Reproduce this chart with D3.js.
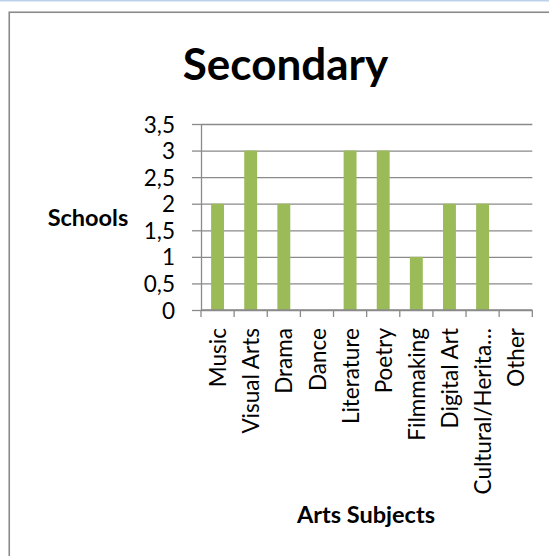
<!DOCTYPE html>
<html>
<head>
<meta charset="utf-8">
<script src="https://cdn.jsdelivr.net/npm/d3@7/dist/d3.min.js"></script>
<style>
  html, body { margin: 0; padding: 0; background: #ffffff; }
  svg { display: block; }
  text { font-family: Lato, "Noto Sans", sans-serif; fill: #000; }
</style>
</head>
<body>
<svg id="chart" width="549" height="556"></svg>
<script>
// Arts subjects offered by secondary schools
const categories = ["Music", "Visual Arts", "Drama", "Dance", "Literature", "Poetry",
                    "Filmmaking", "Digital Art", "Cultural/Heritage", "Other"];
const schools = [2, 3, 2, 0, 3, 3, 1, 2, 2, 0];
const yTicks = [0, 0.5, 1, 1.5, 2, 2.5, 3, 3.5];

const chartTitle = "Secondary";
const yTitle = "Schools";
const xTitle = "Arts Subjects";

const W = 549, H = 556;
const plot = { left: 201, right: 532.3, top: 124, bottom: 310 };
const barColor = "#9bbb59";
const gridColor = "#8a8a8a";

const svg = d3.select("#chart");

// page strip and chart frame
svg.append("rect").attr("x", 0).attr("y", 0).attr("width", W).attr("height", 1.5)
  .attr("fill", "#bcd1ea");
svg.append("rect").attr("x", 9.25).attr("y", 12.25).attr("width", 700).attr("height", 700)
  .attr("fill", "#fff").attr("stroke", "#8a8a8a").attr("stroke-width", 1.6);

const gap = 0.61;
const x = d3.scaleBand().domain(categories).range([plot.left, plot.right])
  .paddingInner(gap).paddingOuter(gap / 2);
const y = d3.scaleLinear().domain([0, 3.5]).range([plot.bottom, plot.top]);

const locale = d3.formatLocale({ decimal: ",", thousands: ".", grouping: [3], currency: ["", ""] });
const fmt = v => locale.format("~g")(v);

// horizontal gridlines with short outside ticks
const grid = svg.append("g").attr("transform", `translate(${plot.left},0)`)
  .call(d3.axisLeft(y).tickValues(yTicks).tickSizeInner(-(plot.right - plot.left)).tickSizeOuter(0).tickFormat(""));
grid.select(".domain").remove();
grid.selectAll(".tick line").attr("stroke", gridColor).attr("stroke-width", 1.3);

const yAxis = svg.append("g").attr("transform", `translate(${plot.left},0)`)
  .call(d3.axisLeft(y).tickValues(yTicks).tickSizeInner(9).tickSizeOuter(0).tickPadding(17).tickFormat(fmt));
yAxis.select(".domain").attr("stroke", gridColor).attr("stroke-width", 1.3);
yAxis.selectAll(".tick line").attr("stroke", gridColor).attr("stroke-width", 1.3);
yAxis.selectAll(".tick text").attr("font-size", 22.5).attr("dy", "0.36em")
  .attr("font-family", "Lato").attr("fill", "#000");

// bars
svg.append("g").selectAll("rect").data(categories).join("rect")
  .attr("x", d => x(d))
  .attr("width", x.bandwidth())
  .attr("y", (d, i) => y(schools[i]))
  .attr("height", (d, i) => y(0) - y(schools[i]))
  .attr("fill", barColor);

// category axis: boundary ticks
const step = x.step();
const bounds = d3.range(categories.length + 1).map(i => plot.left + i * step);
svg.append("g").selectAll("line").data(bounds).join("line")
  .attr("x1", d => d).attr("x2", d => d)
  .attr("y1", plot.bottom).attr("y2", plot.bottom + 7)
  .attr("stroke", gridColor).attr("stroke-width", 1.3);
svg.append("line").attr("x1", plot.left).attr("x2", plot.right)
  .attr("y1", plot.bottom).attr("y2", plot.bottom)
  .attr("stroke", gridColor).attr("stroke-width", 1.3);

// rotated category labels, long names shortened
const shorten = s => s.length > 15 ? s.slice(0, 15) + "\u2026" : s;
svg.append("g").selectAll("text").data(categories).join("text")
  .attr("transform", d => `translate(${x(d) + x.bandwidth() / 2},${plot.bottom + 18}) rotate(-90)`)
  .attr("text-anchor", "end")
  .attr("dy", "0.38em")
  .attr("font-size", 22.5)
  .text(shorten);

// titles
svg.append("text").attr("x", 285.5).attr("y", 80).attr("text-anchor", "middle")
  .attr("font-size", 44).attr("font-weight", 700).text(chartTitle);
svg.append("text").attr("x", 88).attr("y", 226).attr("text-anchor", "middle")
  .attr("font-size", 23.5).attr("font-weight", 700).text(yTitle);
svg.append("text").attr("x", 366).attr("y", 523).attr("text-anchor", "middle")
  .attr("font-size", 23.5).attr("font-weight", 700).text(xTitle);
</script>
</body>
</html>
